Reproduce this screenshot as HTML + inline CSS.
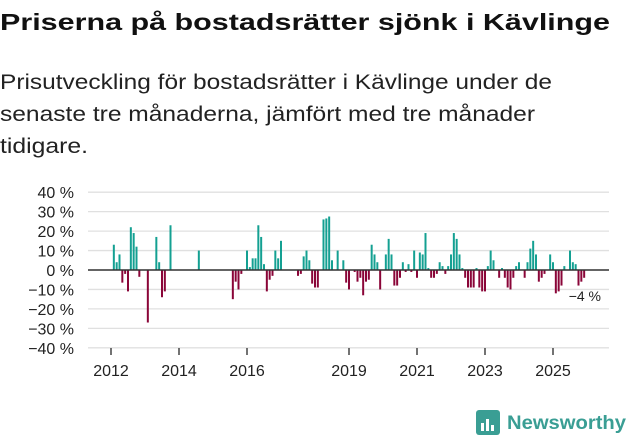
<!DOCTYPE html>
<html><head><meta charset="utf-8"><style>
html,body{margin:0;padding:0;background:#fff;width:631px;height:439px;overflow:hidden}
svg{display:block;font-family:"Liberation Sans",sans-serif}
</style></head><body>
<svg width="631" height="439" viewBox="0 0 631 439">
<text x="0" y="30" font-size="23" font-weight="bold" fill="#111" textLength="610" lengthAdjust="spacingAndGlyphs">Priserna på bostadsrätter sjönk i Kävlinge</text>
<text x="0" y="89" font-size="21" fill="#222" textLength="552" lengthAdjust="spacingAndGlyphs">Prisutveckling för bostadsrätter i Kävlinge under de</text>
<text x="0" y="121" font-size="21" fill="#222" textLength="535" lengthAdjust="spacingAndGlyphs">senaste tre månaderna, jämfört med tre månader</text>
<text x="0" y="153" font-size="21" fill="#222" textLength="88" lengthAdjust="spacingAndGlyphs">tidigare.</text>
<g id="grid"></g><g id="bars"></g><g id="axes"></g>
<text x="601" y="301" font-size="14" fill="#222" text-anchor="end">−4 %</text>
<g>
<rect x="476" y="410" width="24" height="25" rx="3" fill="#3a9e94"/>
<rect x="481" y="423" width="3" height="8" fill="#fff"/><rect x="486" y="419" width="3" height="12" fill="#fff"/><rect x="491" y="425" width="3" height="6" fill="#fff"/>
<text x="507" y="429" font-size="19" font-weight="bold" fill="#3a9e94" textLength="119" lengthAdjust="spacingAndGlyphs">Newsworthy</text>
</g>
</svg>
<script>
const months=[1,2,3,4,5,6,7,8,9,10,13,16,17,18,19,21,31,43,44,45,46,48,49,50,51,52,53,54,55,56,57,58,59,60,66,67,68,69,70,71,72,73,75,76,77,78,80,82,83,84,86,87,88,89,90,91,92,93,94,95,97,98,99,100,101,102,103,104,105,106,107,108,109,110,111,112,113,114,115,116,117,118,119,120,121,122,123,124,125,126,127,128,129,130,131,132,133,134,135,137,138,139,140,141,142,143,144,146,147,148,149,150,151,152,153,155,156,157,158,159,160,162,163,164,165,166,167];
const values=[13,4,8,-6.5,-2,-11,22,19,12,-3.5,-27,17,4,-14,-11,23,10,-15,-6,-10,-2,10,1.5,6,6,23,17,3,-11,-5,-3,10,6,15,-3,-2,7,10,5,-7,-9,-9,26,26.5,27.5,5,10,5,-6.5,-10,-1,-6,-4,-13,-6,-5,13,8,4,-10,8,16,8,-8,-8,-4,4,-1,3,-1,10,-4,9,8,19,1,-4,-4,-2,4,2,-2,2,8,19,16,8,1,-4,-9,-9,-9,1,-9,-11,-11,2,10,5,-4,1,-4,-9,-10,-4,2,4,-4,4,11,15,8,-6,-4,-2,8,4,-12,-11,-8,2,10,4,3,-8,-6,-4];
const yTicks=[40,30,20,10,0,-10,-20,-30,-40];
const xTickYears=[2012,2014,2016,2019,2021,2023,2025];
const NS='http://www.w3.org/2000/svg';
const y=v=>270-v*1.945;
const x=m=>111+m*34/12;
const g=document.getElementById('grid'),b=document.getElementById('bars'),a=document.getElementById('axes');
function mk(t,at,p){const e=document.createElementNS(NS,t);for(const k in at)e.setAttribute(k,at[k]);p.appendChild(e);return e;}
yTicks.forEach(t=>{
 const l=mk('line',{x1:88,x2:609,y1:y(t),y2:y(t),stroke:'#e0e0e0','stroke-width':1.3},g);
 
 
 const tx=mk('text',{x:74,y:y(t)+6,'font-size':16,fill:'#222','text-anchor':'end'},a);
 tx.textContent=(t<0?'−'+(-t):t)+' %';
 
 
});
months.forEach((m,i)=>{
 const v=values[i];
 const r=mk('rect',{x:x(m)-1,width:2,y:v>=0?y(v):270,height:Math.abs(v)*1.945,fill:v>=0?'#14a092':'#8a0538'},b);
 
 
});
const bl=mk('line',{x1:88,x2:609,y1:270,y2:270,stroke:'#333','stroke-width':1.6},a);


xTickYears.forEach(yr=>{
 const xx=x((yr-2012)*12);
 const tk=mk('line',{x1:xx,x2:xx,y1:348,y2:355,stroke:'#444','stroke-width':1.5},a);
 
 
 const tx=mk('text',{x:xx,y:376,'font-size':16,fill:'#222','text-anchor':'middle'},a);
 tx.textContent=yr;
 
 
});
</script>
</body></html>
